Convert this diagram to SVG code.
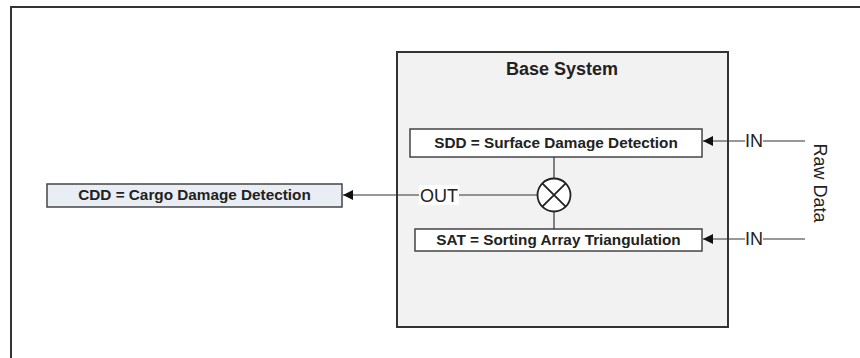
<svg xmlns="http://www.w3.org/2000/svg" width="860" height="358" viewBox="0 0 860 358">
<defs>
<marker id="arr" viewBox="0 0 10 10" refX="10" refY="5" markerWidth="11" markerHeight="10" markerUnits="userSpaceOnUse" orient="auto">
<path d="M0,0 L10,5 L0,10 z" fill="#111"/>
</marker>
<style>
.box{stroke:#444;stroke-width:1.5}
.lbl{font-family:"Liberation Sans",Arial,sans-serif;font-weight:bold;font-size:15.3px;fill:#222;text-anchor:middle}
.pl{font-family:"Liberation Sans",Arial,sans-serif;font-size:18px;fill:#222}
.ln{stroke:#333;stroke-width:1.2;fill:none}
</style>
</defs>
<rect width="860" height="358" fill="#fff"/>
<path d="M11,358 V7 H860" fill="none" stroke="#333" stroke-width="2"/>
<g id="base">
<rect x="397" y="52" width="331" height="275" fill="#f2f2f2" stroke="#333" stroke-width="2"/>
<text x="562" y="75" class="lbl" style="font-size:18px">Base System</text>
</g>
<g id="sdd">
<rect class="box" x="410" y="129" width="292" height="28" fill="#fff"/>
<text x="556" y="148" class="lbl">SDD = Surface Damage Detection</text>
</g>
<g id="sat">
<rect class="box" x="415" y="229" width="287" height="22" fill="#fff"/>
<text x="558.5" y="244.5" class="lbl">SAT = Sorting Array Triangulation</text>
</g>
<g id="mult">
<circle cx="554" cy="195" r="16.5" fill="#fff" stroke="#222" stroke-width="1.8"/>
<path d="M542.3,183.3 L565.7,206.7 M565.7,183.3 L542.3,206.7" stroke="#222" stroke-width="1.8"/>
</g>
<g id="cdd">
<rect class="box" x="47" y="184" width="295" height="23" fill="#e9edf4"/>
<text x="194.5" y="200" class="lbl">CDD = Cargo Damage Detection</text>
</g>
<g id="rawdata">
<text transform="translate(813.5,183) rotate(90)" class="pl" text-anchor="middle">Raw Data</text>
</g>
<g id="connectors">
<path class="ln" d="M554,157 V178.5"/>
<path class="ln" d="M554,211.5 V229"/>
<path class="ln" d="M537.5,195 H459"/>
<path class="ln" d="M419,195 H343" marker-end="url(#arr)"/>
<rect x="419" y="185" width="40" height="20" fill="#fff"/>
<text x="420" y="201.5" class="pl">OUT</text>
<path class="ln" d="M805,141 H763"/>
<path class="ln" d="M745,141 H703" marker-end="url(#arr)"/>
<text x="754" y="146.5" class="pl" text-anchor="middle">IN</text>
<path class="ln" d="M805,239 H763"/>
<path class="ln" d="M745,239 H703" marker-end="url(#arr)"/>
<text x="754" y="245" class="pl" text-anchor="middle">IN</text>
</g>
</svg>
